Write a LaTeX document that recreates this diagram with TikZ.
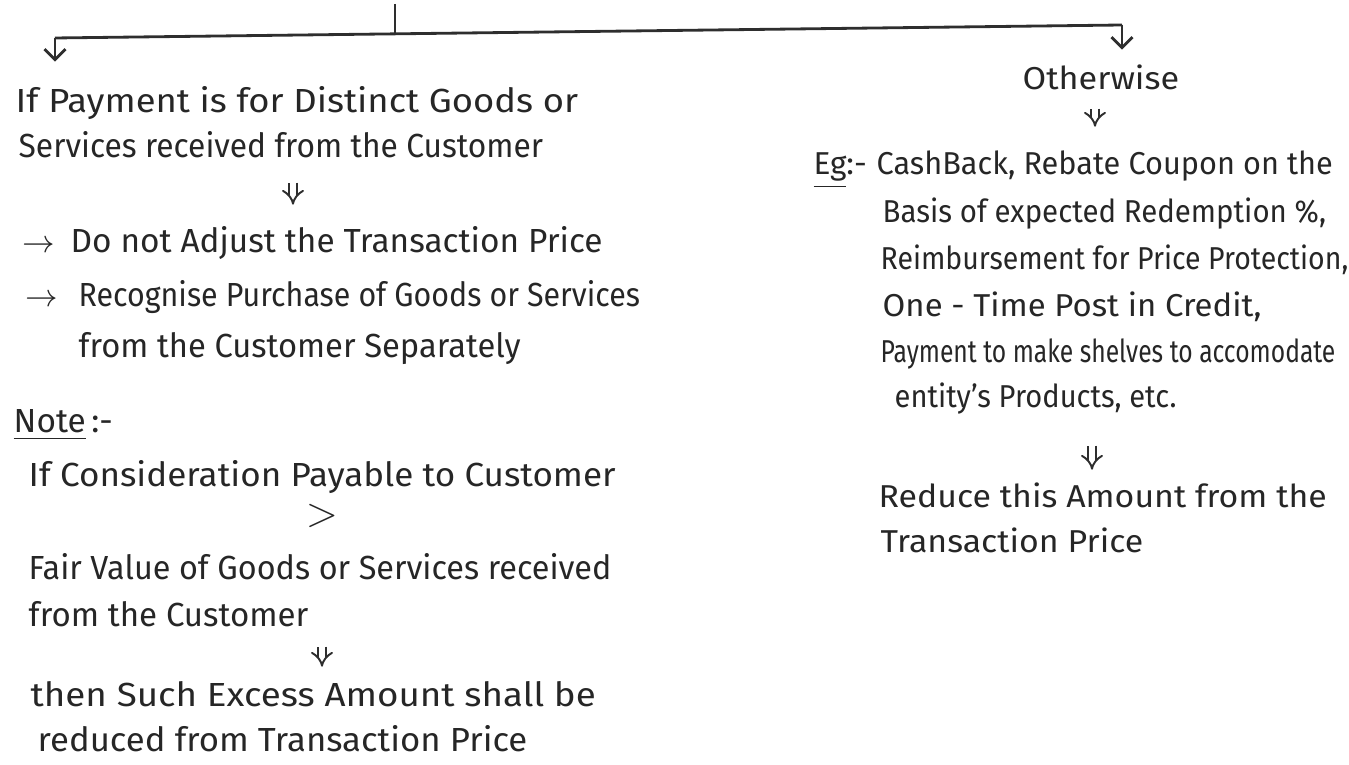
\documentclass[tikz,border=0pt]{standalone}
\usepackage{fontspec}
\setmainfont{Fira Sans}
\usepackage{graphicx}
\usepackage{tikz}
\usetikzlibrary{arrows.meta,calc}
% handwriting lines differ in width: stretch each line on its own
\newcommand{\sx}[2]{\scalebox{#1}[1]{#2}}

\begin{document}
\begin{tikzpicture}[x=0.1mm,y=-0.1mm,
line/.style={draw=black!82,line width=0.8pt},
flow/.style={line,-{Straight Barb[length=3pt,width=6pt]}},
dbl/.style={draw=black!82,double,double distance=1.6pt,line width=0.55pt,-{Implies[length=3pt,width=9pt]}},
txt/.style={anchor=base west,inner sep=0pt,text height=7pt,text depth=2pt,text=black!85,font=\fontsize{9.5}{11}\selectfont},
rtxt/.style={txt,font=\fontsize{9}{11}\selectfont}]
\useasboundingbox (0,0) rectangle (1349,765);
% fork from the parent
\coordinate (top) at (395,4);
\coordinate (fork) at (395,34);
\coordinate (lturn) at (55,38);
\coordinate (rturn) at (1122,25);
% left branch
\node[txt] (pay1) at (15,113) {\sx{1.09}{If Payment is for Distinct Goods or}};
\node[txt] (pay2) at (18,158) {\sx{0.95}{Services received from the Customer}};
\node[txt] (adjA) at (22,253) {$\rightarrow$};
\node[txt] (adj) at (70,253) {\sx{1.0}{Do not Adjust the Transaction Price}};
\node[txt] (recA) at (25,307) {$\rightarrow$};
\node[txt] (rec) at (78,307) {\sx{0.91}{Recognise Purchase of Goods or Services}};
\node[txt] (sep) at (78,358) {\sx{0.98}{from the Customer Separately}};
\node[txt] (note) at (13,433) {\underline{Note}\,:-};
\node[txt] (cons) at (28,487) {\sx{1.05}{If Consideration Payable to Customer}};
\node[txt,anchor=center,font=\large] (gt) at (322,518) {$>$};
\node[txt] (fair1) at (28,580) {\sx{0.97}{Fair Value of Goods or Services received}};
\node[txt] (fair2) at (28,627) {\sx{0.99}{from the Customer}};
\node[txt] (then1) at (30,707) {\sx{1.10}{then Such Excess Amount shall be}};
\node[txt] (then2) at (37,752) {\sx{1.04}{reduced from Transaction Price}};
% right branch
\node[rtxt] (oth) at (1022,90) {\sx{1.08}{Otherwise}};
\node[rtxt] (eg) at (813,175) {\underline{Eg}:-};
\node[rtxt] (cb1) at (876,175) {\sx{0.97}{CashBack, Rebate Coupon on the}};
\node[rtxt] (cb2) at (882,223) {\sx{0.93}{Basis of expected Redemption \%,}};
\node[rtxt] (cb3) at (880,270) {\sx{0.90}{Reimbursement for Price Protection,}};
\node[rtxt] (cb4) at (882,317) {\sx{1.04}{One - Time Post in Credit,}};
\node[rtxt] (cb5) at (880,363) {\sx{0.78}{Payment to make shelves to accomodate}};
\node[rtxt] (cb6) at (894,408) {\sx{0.92}{entity's Products, etc.}};
\node[rtxt] (redu1) at (878,508) {\sx{1.07}{Reduce this Amount from the}};
\node[rtxt] (redu2) at (880,553) {\sx{1.07}{Transaction Price}};
% arrow columns
\coordinate (lcolA) at (293,0);
\coordinate (lcolB) at (322,0);
\coordinate (rcolA) at (1095,0);
\coordinate (rcolB) at (1092,0);
\draw[line] (top)--(fork);
\draw[line] (lturn)--(rturn);
\draw[flow,shorten >=2.6mm] (lturn)--(lturn |- pay1.north);
\draw[flow,shorten >=1.5mm] (rturn)--(rturn |- oth.north);
\draw[dbl,shorten <=1.7mm,shorten >=2.3mm] (lcolA |- pay2.south)--(lcolA |- adj.north);
\draw[dbl,shorten <=1.2mm,shorten >=1.5mm] (lcolB |- fair2.south)--(lcolB |- then1.north);
\draw[dbl,shorten <=1.1mm,shorten >=2.3mm] (rcolA |- oth.south)--(rcolA |- cb1.north);
\draw[dbl,shorten <=3.0mm,shorten >=1.3mm] (rcolB |- cb6.south)--(rcolB |- redu1.north);
\end{tikzpicture}
\end{document}
